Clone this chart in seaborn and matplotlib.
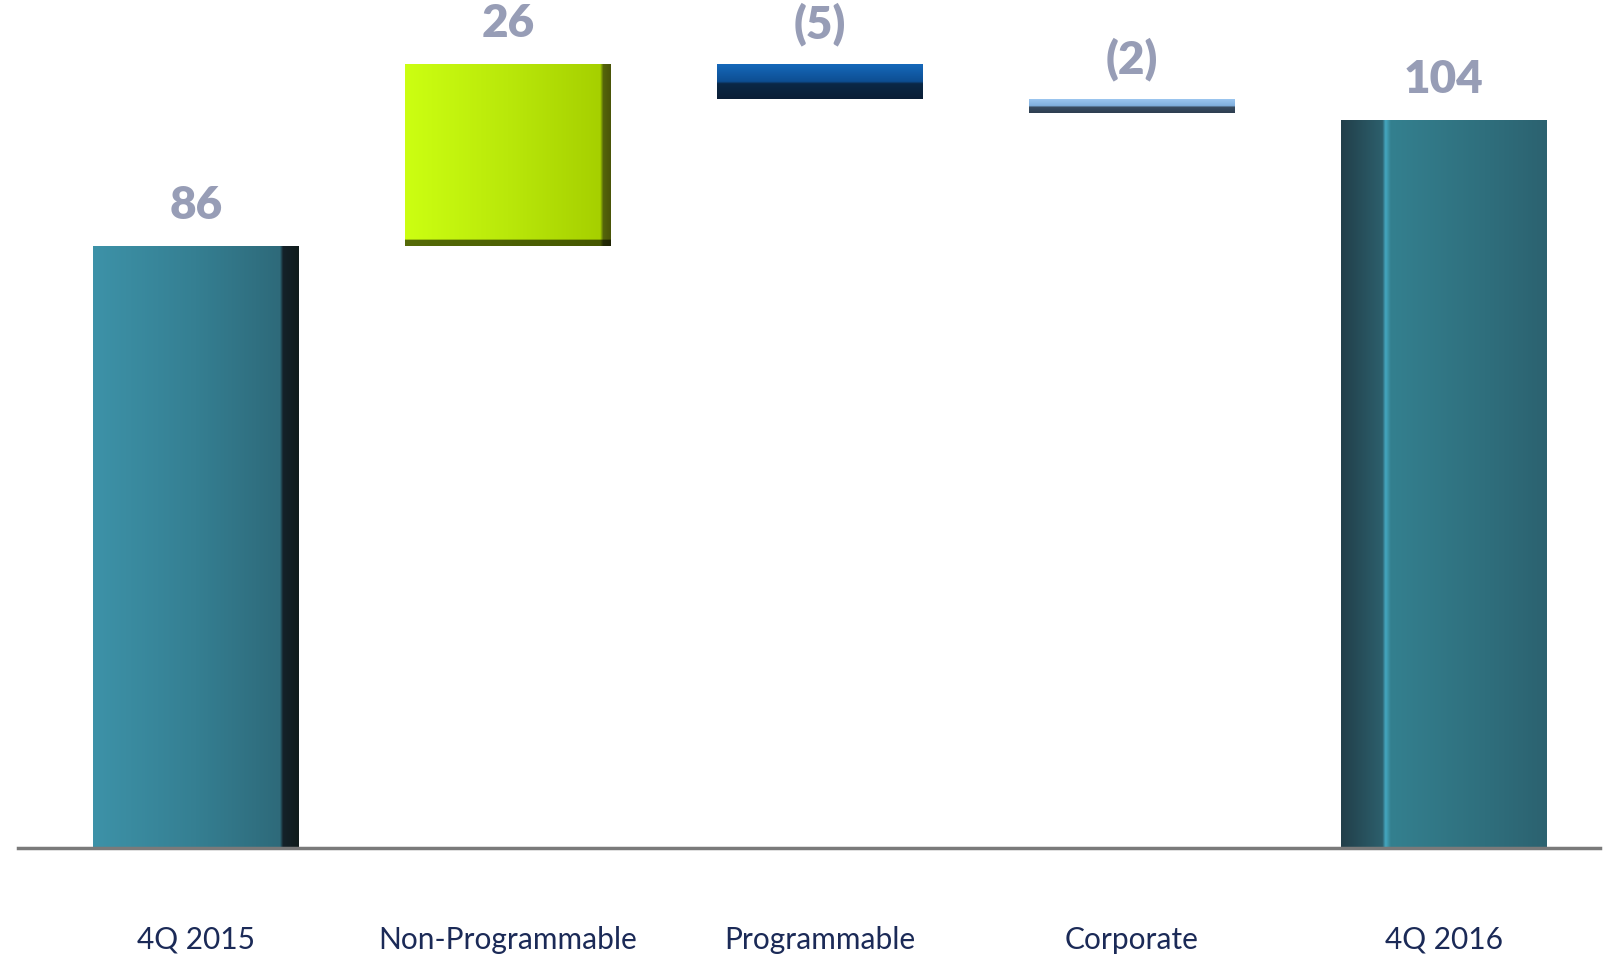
import numpy as np
import pandas as pd
import matplotlib
matplotlib.use("Agg")
import matplotlib.pyplot as plt
import matplotlib.colors as mcolors
import seaborn as sns

# ---- data ----
categories = ["4Q 2015", "Non-Programmable", "Programmable", "Corporate", "4Q 2016"]
changes = [86, 26, -5, -2, 104]
is_total = [True, False, False, False, True]

# waterfall bottoms/tops
bottoms, tops = [], []
running = 0
for v, tot in zip(changes, is_total):
    if tot:
        bottoms.append(0); tops.append(v); running = v
    else:
        start = running
        running = running + v
        bottoms.append(min(start, running)); tops.append(max(start, running))

def fmt(v):
    return f"({abs(v)})" if v < 0 else f"{v}"

df = pd.DataFrame({"cat": categories, "top": tops, "bottom": bottoms})

sns.set_theme(style="white")
plt.rcParams['font.family'] = ['Lato', 'DejaVu Sans']

fig = plt.figure(figsize=(16.04, 9.59), dpi=100)
ax = fig.add_axes([18/1604, 111/959, (1600-18)/1604, 826/959])

sns.barplot(data=df, x="cat", y="top", hue="cat", palette=["#3A879B"]*5,
            legend=False, width=0.66, ax=ax, saturation=1)

def hgrad(stops, n=200):
    xs = np.linspace(0, 1, n)
    pos = [p for p, c in stops]
    cols = np.array([mcolors.to_rgb(c) for p, c in stops])
    img = np.stack([np.interp(xs, pos, cols[:, k]) for k in range(3)], axis=-1)
    return img[np.newaxis, :, :]

def vgrad(stops, n=200):
    img = hgrad(stops, n)[0]
    return img[:, np.newaxis, :]

grads = [
    ("h", [(0, "#3D92A8"), (0.5, "#357F92"), (0.91, "#2E6A7A"), (0.925, "#14222A"), (1, "#101C1C")], 0),
    ("h", [(0, "#CCFF12"), (0.5, "#B9E80A"), (0.95, "#A6D000"), (0.965, "#55650A"), (1, "#4A5508")], 0.035),
    ("v", [(0, "#1669BB"), (0.5, "#0D4E92"), (0.56, "#0B2846"), (1, "#0A1E36")], 0),
    ("v", [(0, "#9CC6F0"), (0.5, "#7FAEDC"), (0.56, "#3A4D62"), (1, "#2E3E50")], 0),
    ("h", [(0, "#223F4A"), (0.2, "#2C5F6C"), (0.215, "#45A8C2"), (0.24, "#34808F"), (0.7, "#2F6F7D"), (1, "#2C6270")], 0),
]

for i, p in enumerate(ax.patches[:len(categories)]):
    b, t = bottoms[i], tops[i]
    p.set_y(b)
    p.set_height(t - b)
    p.set_edgecolor("none")
    x0, w = p.get_x(), p.get_width()
    kind, stops, dark_bottom = grads[i]
    if kind == "h":
        img = np.repeat(hgrad(stops), 200, axis=0)
        if dark_bottom:
            nrow = int(200 * dark_bottom)
            img[-nrow:] = img[-nrow:] * 0.42
    else:
        img = vgrad(stops)
    im = ax.imshow(img, extent=[x0, x0 + w, b, t], aspect="auto",
                   interpolation="bilinear", zorder=p.get_zorder() + 0.1)
    im.set_clip_path(p)
    ax.annotate(fmt(changes[i]), xy=(x0 + w / 2, t), xytext=(0, 29),
                textcoords="offset points", ha="center", va="center",
                fontsize=33, fontweight="heavy", color="#979DB6",
                family=["Lato", "DejaVu Sans"])

ax.set_xlim(-0.57, 4.5)
ax.set_ylim(0, 118)
ax.set_xlabel("")
ax.set_ylabel("")
ax.set_yticks([])
ax.tick_params(axis="x", length=0, pad=56, labelsize=21.5, labelcolor="#1B2A57")
for s in ["top", "right", "left"]:
    ax.spines[s].set_visible(False)
ax.spines["bottom"].set_color("#7A7A7A")
ax.spines["bottom"].set_linewidth(2.5)
ax.set_facecolor("white")
fig.patch.set_facecolor("white")

fig.savefig("out.png", dpi=100, facecolor="white")
